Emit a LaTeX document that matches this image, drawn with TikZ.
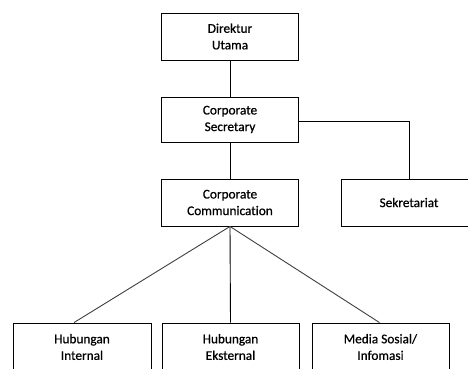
\documentclass[tikz,border=0pt]{standalone}
\usepackage{fontspec}
\setmainfont{Carlito}[Ligatures=NoCommon,FakeBold=0.6]
\begin{document}
\begin{tikzpicture}[x=1pt,y=-1pt,
  box/.style={draw=black,line width=0.9pt,fill=white,minimum width=137pt,minimum height=47pt,
    inner sep=0pt,align=center,font=\fontsize{13.3}{16.6}\selectfont},
  conn/.style={draw=black,line width=0.9pt},
  diag/.style={draw=black!75,line width=0.9pt}]
\clip (0,0) rectangle (468,368);
\fill[white] (0,0) rectangle (468,368);
\node[box] (dir) at (230,36.5) {Direktur\\Utama};
\node[box,minimum height=45pt] (sec) at (230,119.5) {Corporate\\Secretary};
\node[box] (com) at (230,202.5) {Corporate\\Communication};
\node[box,minimum width=136pt] (sek) at (409,202.5) {Sekretariat};
\node[box,minimum width=138pt,minimum height=48pt] (hi) at (82,347) {Hubungan\\Internal};
\node[box,minimum width=137pt,minimum height=48pt] (he) at (230.5,347) {Hubungan\\Eksternal};
\node[box,minimum width=137pt,minimum height=48pt] (ms) at (380.5,347) {Media Sosial/\\Infomasi};
\draw[conn] (dir.south) -- (sec.north);
\draw[conn] (sec.south) -- (com.north);
\draw[conn] ([yshift=-2pt]sec.east) -| (sek.north);
\draw[diag] (com.south) -- ([xshift=-8pt]hi.north);
\draw[conn] (com.south) -- (he.north);
\draw[diag] (com.south) -- ([xshift=-1pt]ms.north);
\end{tikzpicture}
\end{document}
